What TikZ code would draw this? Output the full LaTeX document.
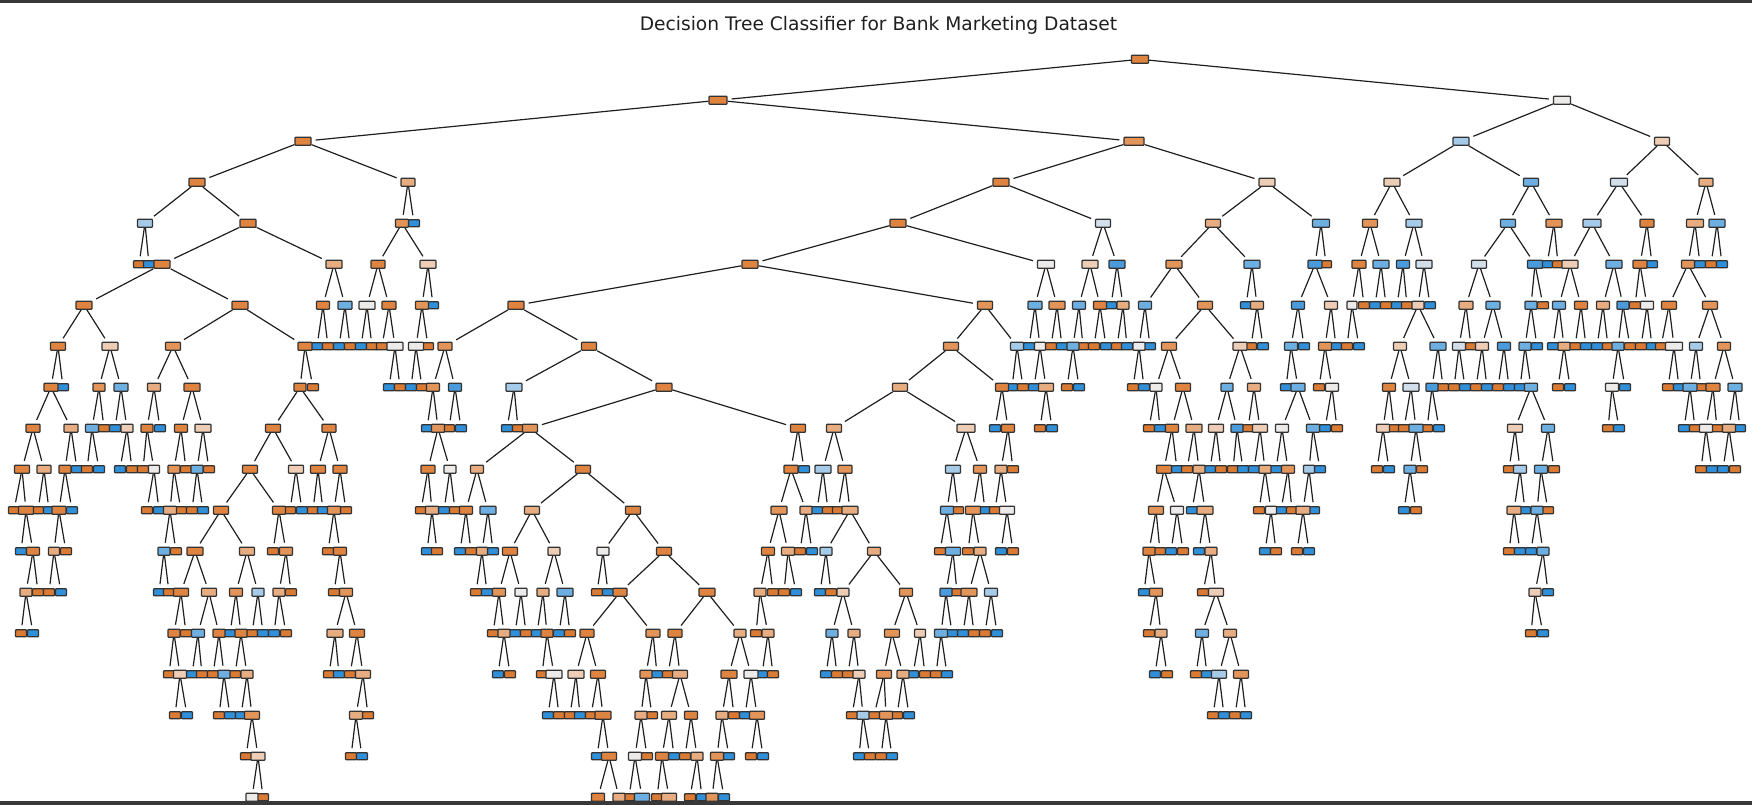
\documentclass[tikz,border=0pt]{standalone}
\usepackage{fontspec}
\setmainfont{DejaVu Sans}
\definecolor{tco}{HTML}{DF8440}
\definecolor{tcc}{HTML}{E39458}
\definecolor{tca}{HTML}{E7AC80}
\definecolor{tcp}{HTML}{EDCDB6}
\definecolor{tcw}{HTML}{EDEBEA}
\definecolor{tcg}{HTML}{D2DFEA}
\definecolor{tcl}{HTML}{A6CBE8}
\definecolor{tcm}{HTML}{6EAFE2}
\definecolor{tcB}{HTML}{4A9BDC}
\definecolor{tcO}{HTML}{DB7A33}
\definecolor{tcU}{HTML}{2F8FD8}
\pgfdeclarelayer{edgelayer}
\pgfsetlayers{edgelayer,main}
\tikzset{
  box/.style={draw=black!80,line width=1.25pt,rounded corners=.8pt,inner sep=0pt,minimum height=8pt},
  leafbox/.style={box,minimum height=7pt,minimum width=11pt},
  edge/.style={draw=black!88,line width=1.2pt,shorten >=4pt},
  bar/.style={fill=black!78,draw=none}
}
\def\Pick#1#2\relax{\def\Cc{#1}\def\Ww{#2}}
\newcommand\PN[3]{\Pick#3\relax
  \ifx\Ww\empty
    \ifnum\mode=1 \node[leafbox,fill=tc\Cc] (n#1-#2) at (#2,{59.3+41*#1}) {};\fi
  \else
    \ifnum\mode=2 \node[box,fill=tc\Cc,minimum width=\Ww pt] (n#1-#2) at (#2,{59.3+41*#1}) {};\fi
  \fi}
\newcommand\Lv[1]{\edef\lv{#1}\edef\pv{\the\numexpr#1-1\relax}}
\newcommand\K[5]{\PN{\lv}{#2}{#3}\PN{\lv}{#4}{#5}%
  \ifnum\mode=3 \draw[edge] (n\pv-#1) -- (n\lv-#2);\draw[edge] (n\pv-#1) -- (n\lv-#4);\fi}
\newcommand\TreeData{%
\PN{0}{1140}{o17}
\Lv{1}\K{1140}{718}{o18}{1562}{w17}
\Lv{2}\K{718}{303}{o16}{1134}{c20}\K{1562}{1461}{l16}{1662}{p15}
\Lv{3}\K{303}{197}{o16}{408}{a14}\K{1134}{1001}{o16}{1267}{p16}\K{1461}{1392}{p16}{1531}{m15}\K{1662}{1619}{g17}{1706}{a14}
\Lv{4}
\K{197}{145}{l15}{248}{o16}\K{408}{402}{c13}{414}{U}\K{1001}{898}{o16}{1103}{g15}\K{1267}{1213}{a15}{1321}{m17}
\K{1392}{1370}{c15}{1414}{l16}\K{1531}{1508}{m15}{1554}{c16}\K{1619}{1592}{l18}{1647}{o14}\K{1706}{1695}{a17}{1717}{m16}
\Lv{5}
\K{145}{139}{O}{149}{U}\K{248}{162}{o16}{334}{a16}\K{402}{378}{o14}{428}{p16}\K{898}{750}{o16}{1046}{w17}
\K{1103}{1090}{p16}{1117}{B16}\K{1213}{1174}{c16}{1252}{m16}\K{1321}{1315}{B14}{1326}{O}\K{1370}{1359}{o14}{1381}{m16}
\K{1414}{1403}{B13}{1424}{g16}\K{1508}{1479}{g15}{1535}{B15}\K{1554}{1547}{U}{1558}{O}\K{1592}{1570}{p16}{1614}{m16}
\K{1647}{1640}{o14}{1652}{U}\K{1695}{1688}{c13}{1700}{U}\K{1717}{1711}{O}{1722}{U}
\Lv{6}
\K{162}{84}{o16}{240}{o16}\K{334}{323}{o13}{345}{m14}\K{378}{367}{w16}{389}{o14}\K{428}{422}{c13}{433}{U}
\K{750}{516}{o16}{985}{c15}\K{1046}{1035}{m14}{1057}{c16}\K{1090}{1079}{m13}{1100}{o13}\K{1117}{1111}{U}{1123}{a12}
\K{1174}{1145}{m13}{1205}{c15}\K{1252}{1246}{U}{1257}{a13}\K{1315}{1298}{B13}{1331}{p13}\K{1359}{1352}{w10}{1364}{O}
\K{1381}{1375}{U}{1386}{O}\K{1403}{1397}{U}{1407}{O}\K{1424}{1418}{p12}{1430}{U}\K{1479}{1466}{a14}{1493}{m14}
\K{1535}{1531}{m12}{1543}{O}\K{1570}{1559}{m13}{1581}{o13}\K{1614}{1603}{a13}{1623}{B12}\K{1640}{1635}{O}{1647}{w13}
\K{1688}{1669}{o15}{1710}{c15}
\Lv{7}
\K{84}{58}{o15}{110}{p16}\K{240}{173}{c15}{305}{o14}\K{323}{317}{U}{328}{O}\K{345}{339}{U}{350}{O}
\K{367}{361}{U}{372}{O}\K{389}{382}{O}{395}{w16}\K{422}{416}{w15}{428}{O}\K{516}{445}{c14}{589}{o15}
\K{985}{951}{c15}{1017}{l13}\K{1035}{1029}{U}{1040}{w11}\K{1057}{1051}{O}{1062}{U}\K{1079}{1073}{m12}{1083}{O}
\K{1100}{1094}{O}{1106}{U}\K{1123}{1117}{O}{1127}{U}\K{1145}{1139}{w12}{1150}{U}\K{1205}{1169}{c15}{1240}{p14}
\K{1257}{1251}{O}{1263}{U}\K{1298}{1291}{m13}{1304}{U}\K{1331}{1325}{c13}{1336}{U}\K{1352}{1347}{O}{1359}{U}
\K{1418}{1400}{p13}{1438}{m16}\K{1466}{1459}{g13}{1471}{O}\K{1493}{1482}{p13}{1504}{B13}\K{1531}{1525}{m12}{1537}{U}
\K{1559}{1553}{U}{1564}{a12}\K{1581}{1575}{O}{1586}{U}\K{1603}{1597}{U}{1608}{O}\K{1623}{1618}{m12}{1630}{O}
\K{1647}{1641}{O}{1652}{U}\K{1669}{1661}{O}{1674}{w17}\K{1710}{1696}{l13}{1724}{c13}
\Lv{8}
\K{58}{51}{o14}{63}{U}\K{110}{99}{c12}{121}{m14}\K{173}{154}{a13}{192}{o16}\K{305}{300}{o12}{313}{O}
\K{395}{389}{U}{400}{O}\K{416}{411}{U}{422}{O}\K{445}{433}{c13}{455}{B13}\K{589}{514}{l16}{664}{o16}
\K{951}{900}{a15}{1002}{o13}\K{1017}{1012}{U}{1023}{O}\K{1040}{1034}{U}{1046}{a15}\K{1073}{1067}{O}{1079}{U}
\K{1139}{1133}{O}{1144}{U}\K{1169}{1156}{w12}{1183}{o15}\K{1240}{1227}{m12}{1254}{a13}\K{1291}{1286}{U}{1298}{m14}
\K{1325}{1319}{O}{1332}{w13}\K{1400}{1389}{o13}{1411}{g16}\K{1438}{1432}{B12}{1443}{O}\K{1459}{1454}{O}{1465}{U}
\K{1482}{1476}{O}{1487}{U}\K{1504}{1498}{O}{1509}{U}\K{1525}{1520}{U}{1531}{m13}\K{1564}{1558}{O}{1570}{U}
\K{1618}{1612}{w13}{1625}{U}\K{1674}{1668}{O}{1679}{U}\K{1696}{1690}{m14}{1701}{O}\K{1724}{1713}{o14}{1735}{m14}
\Lv{9}
\K{51}{33}{o14}{71}{a14}\K{99}{92}{m13}{104}{O}\K{121}{115}{U}{127}{p12}\K{154}{147}{o12}{160}{U}
\K{192}{181}{o13}{203}{p16}\K{300}{273}{o15}{329}{o14}\K{433}{427}{U}{438}{c13}\K{455}{449}{O}{461}{U}
\K{514}{507}{U}{518}{O}\K{664}{530}{c15}{798}{o15}\K{900}{834}{a15}{966}{p18}\K{1002}{995}{U}{1008}{o13}
\K{1046}{1040}{O}{1052}{U}\K{1156}{1149}{O}{1160}{U}\K{1183}{1172}{o13}{1194}{a16}\K{1227}{1216}{p15}{1237}{B12}
\K{1254}{1248}{O}{1260}{p15}\K{1298}{1282}{w13}{1313}{m13}\K{1332}{1325}{U}{1337}{O}\K{1389}{1383}{p13}{1394}{O}
\K{1411}{1404}{O}{1416}{m14}\K{1432}{1427}{O}{1439}{U}\K{1531}{1515}{p15}{1548}{m13}\K{1612}{1608}{O}{1619}{U}
\K{1690}{1684}{U}{1695}{O}\K{1713}{1706}{w13}{1717}{O}\K{1735}{1729}{a13}{1740}{U}
\Lv{10}
\K{33}{22}{o15}{44}{a14}\K{71}{65}{o12}{77}{U}\K{92}{87}{O}{99}{U}\K{127}{120}{U}{132}{O}
\K{147}{143}{O}{154}{w11}\K{181}{174}{c12}{186}{O}\K{203}{197}{m12}{209}{O}\K{273}{250}{o15}{296}{p15}
\K{329}{318}{o15}{340}{o14}\K{438}{428}{o14}{450}{w12}\K{530}{477}{a13}{583}{o15}\K{798}{791}{o14}{804}{U}
\K{834}{823}{l16}{845}{c14}\K{966}{953}{l15}{980}{c13}\K{1008}{1001}{a12}{1013}{O}\K{1172}{1164}{o15}{1177}{U}
\K{1194}{1187}{O}{1199}{a12}\K{1216}{1210}{U}{1221}{O}\K{1237}{1233}{O}{1243}{U}\K{1260}{1254}{U}{1265}{a12}
\K{1282}{1276}{U}{1288}{c13}\K{1313}{1309}{l11}{1320}{U}\K{1383}{1377}{O}{1389}{U}\K{1416}{1410}{m12}{1422}{O}
\K{1515}{1509}{O}{1520}{l13}\K{1548}{1541}{m13}{1554}{O}\K{1706}{1701}{O}{1712}{U}\K{1729}{1723}{U}{1735}{O}
\Lv{11}
\K{22}{14}{O}{26}{o15}\K{44}{38}{O}{49}{U}\K{65}{59}{o14}{72}{U}\K{154}{147}{O}{159}{U}
\K{174}{170}{a13}{181}{O}\K{197}{192}{O}{203}{U}\K{250}{221}{o15}{279}{o13}\K{296}{290}{O}{302}{U}
\K{318}{313}{O}{323}{U}\K{340}{334}{c13}{346}{O}\K{428}{421}{O}{432}{a13}\K{450}{444}{U}{455}{O}
\K{477}{466}{o13}{488}{m16}\K{583}{532}{a15}{633}{o15}\K{791}{779}{c16}{806}{a12}\K{823}{817}{U}{828}{O}
\K{845}{838}{O}{850}{a16}\K{953}{947}{m13}{958}{O}\K{980}{973}{c15}{985}{U}\K{1001}{995}{O}{1007}{w15}
\K{1164}{1156}{c15}{1177}{w13}\K{1199}{1192}{U}{1205}{a16}\K{1265}{1259}{O}{1271}{w11}\K{1288}{1281}{U}{1292}{O}
\K{1309}{1303}{a14}{1314}{U}\K{1410}{1404}{U}{1416}{O}\K{1520}{1514}{a14}{1525}{U}\K{1541}{1537}{m12}{1548}{O}
\Lv{12}
\K{26}{21}{U}{33}{o13}\K{59}{54}{a11}{66}{O}\K{170}{164}{m12}{176}{O}\K{221}{195}{o16}{247}{a15}
\K{279}{273}{O}{286}{c13}\K{334}{328}{O}{340}{o13}\K{432}{427}{U}{437}{O}\K{466}{460}{U}{471}{O}
\K{488}{482}{a11}{493}{U}\K{532}{510}{o15}{554}{p12}\K{633}{603}{w12}{664}{o15}\K{779}{768}{o13}{788}{a13}
\K{806}{800}{O}{812}{U}\K{850}{826}{l12}{874}{a13}\K{947}{940}{O}{953}{m15}\K{973}{968}{O}{980}{a12}
\K{1007}{1001}{U}{1013}{O}\K{1156}{1149}{o12}{1160}{O}\K{1177}{1171}{U}{1183}{O}\K{1205}{1199}{U}{1211}{a12}
\K{1271}{1265}{U}{1276}{O}\K{1303}{1297}{O}{1309}{U}\K{1514}{1509}{O}{1520}{U}\K{1537}{1531}{U}{1543}{m12}
\Lv{13}
\K{33}{26}{a12}{38}{O}\K{54}{49}{O}{61}{U}\K{164}{159}{U}{169}{O}\K{195}{181}{o15}{209}{a15}
\K{247}{236}{c13}{258}{l12}\K{286}{279}{a12}{291}{O}\K{340}{334}{O}{346}{c13}\K{482}{476}{O}{487}{U}
\K{510}{499}{c13}{521}{w12}\K{554}{543}{a12}{565}{m16}\K{603}{597}{O}{608}{U}\K{664}{620}{o14}{707}{o16}
\K{768}{760}{a12}{773}{O}\K{788}{784}{O}{796}{U}\K{826}{820}{U}{831}{O}\K{874}{843}{p12}{906}{c13}
\K{953}{946}{B12}{957}{O}\K{980}{969}{c16}{991}{l13}\K{1149}{1144}{U}{1156}{c13}\K{1211}{1203}{O}{1216}{p15}
\K{1543}{1535}{p12}{1548}{U}
\Lv{14}
\K{26}{21}{O}{33}{U}\K{181}{174}{o12}{186}{O}\K{209}{198}{m13}{219}{o12}\K{236}{230}{U}{241}{o12}
\K{258}{252}{O}{263}{U}\K{279}{274}{U}{286}{O}\K{346}{335}{a16}{357}{o15}\K{499}{493}{O}{504}{a12}
\K{521}{515}{U}{526}{O}\K{543}{537}{U}{547}{o12}\K{565}{559}{U}{570}{O}\K{620}{587}{o14}{653}{c14}
\K{707}{675}{o14}{740}{a12}\K{760}{756}{O}{768}{a12}\K{843}{832}{m12}{854}{a12}\K{906}{892}{c15}{920}{p11}
\K{969}{963}{U}{974}{O}\K{946}{941}{m13}{952}{U}\K{991}{985}{O}{997}{U}\K{1156}{1149}{O}{1161}{a12}
\K{1216}{1202}{m13}{1230}{a13}\K{1535}{1531}{O}{1543}{U}
\Lv{15}
\K{174}{169}{O}{180}{p13}\K{198}{192}{U}{202}{O}\K{219}{213}{O}{224}{m12}\K{241}{235}{O}{247}{a12}
\K{335}{329}{O}{339}{U}\K{357}{350}{O}{363}{a15}\K{504}{498}{U}{510}{O}\K{547}{542}{O}{554}{w16}
\K{587}{576}{p16}{598}{o15}\K{653}{646}{c12}{657}{U}\K{675}{668}{O}{680}{a15}\K{740}{729}{o16}{751}{w14}
\K{768}{762}{U}{773}{O}\K{832}{826}{U}{837}{O}\K{854}{848}{O}{859}{p12}\K{920}{913}{U}{925}{O}
\K{892}{884}{c15}{903}{a12}\K{941}{936}{O}{947}{U}\K{1161}{1155}{U}{1167}{O}\K{1202}{1196}{O}{1207}{U}
\K{1230}{1219}{l15}{1241}{c15}
\Lv{16}
\K{180}{175}{O}{187}{U}\K{224}{219}{O}{230}{U}\K{247}{241}{U}{252}{c15}\K{363}{356}{a13}{368}{O}
\K{554}{548}{U}{559}{O}\K{576}{570}{O}{580}{U}\K{598}{591}{O}{603}{o16}\K{646}{641}{a12}{652}{O}
\K{680}{669}{a15}{691}{o13}\K{729}{722}{a12}{734}{O}\K{751}{745}{U}{757}{c15}\K{859}{852}{O}{863}{l12}
\K{884}{874}{O}{886}{c13}\K{903}{897}{O}{909}{U}\K{1219}{1213}{O}{1224}{U}\K{1241}{1235}{O}{1246}{U}
\Lv{17}
\K{252}{246}{O}{258}{p14}\K{356}{351}{O}{362}{U}\K{603}{597}{U}{609}{o15}\K{641}{635}{w13}{647}{O}
\K{669}{662}{o13}{674}{U}\K{691}{685}{O}{697}{a12}\K{722}{717}{c13}{729}{U}\K{757}{751}{O}{763}{U}
\K{863}{859}{U}{870}{O}\K{886}{881}{O}{892}{U}
\Lv{18}
\K{258}{252}{w12}{263}{O}\K{609}{598}{o13}{619}{a12}\K{635}{629}{O}{642}{m15}\K{662}{657}{O}{669}{a15}
\K{697}{690}{O}{702}{U}\K{717}{712}{c12}{724}{U}
}
\begin{document}
\begin{tikzpicture}[x=1pt,y=-1pt]
\useasboundingbox (0,0) rectangle (1752,805);
\node[text=black!88,font=\fontsize{18.65}{22}\selectfont,inner sep=0pt] (title) at (878.5,25) {Decision Tree Classifier for Bank Marketing Dataset};
\def\mode{1}\TreeData
\def\mode{2}\TreeData
\begin{pgfonlayer}{edgelayer}\def\mode{3}\TreeData\end{pgfonlayer}
\fill[bar] (0,0) rectangle (1752,3);
\fill[bar] (0,801) rectangle (1752,805);
\end{tikzpicture}
\end{document}
